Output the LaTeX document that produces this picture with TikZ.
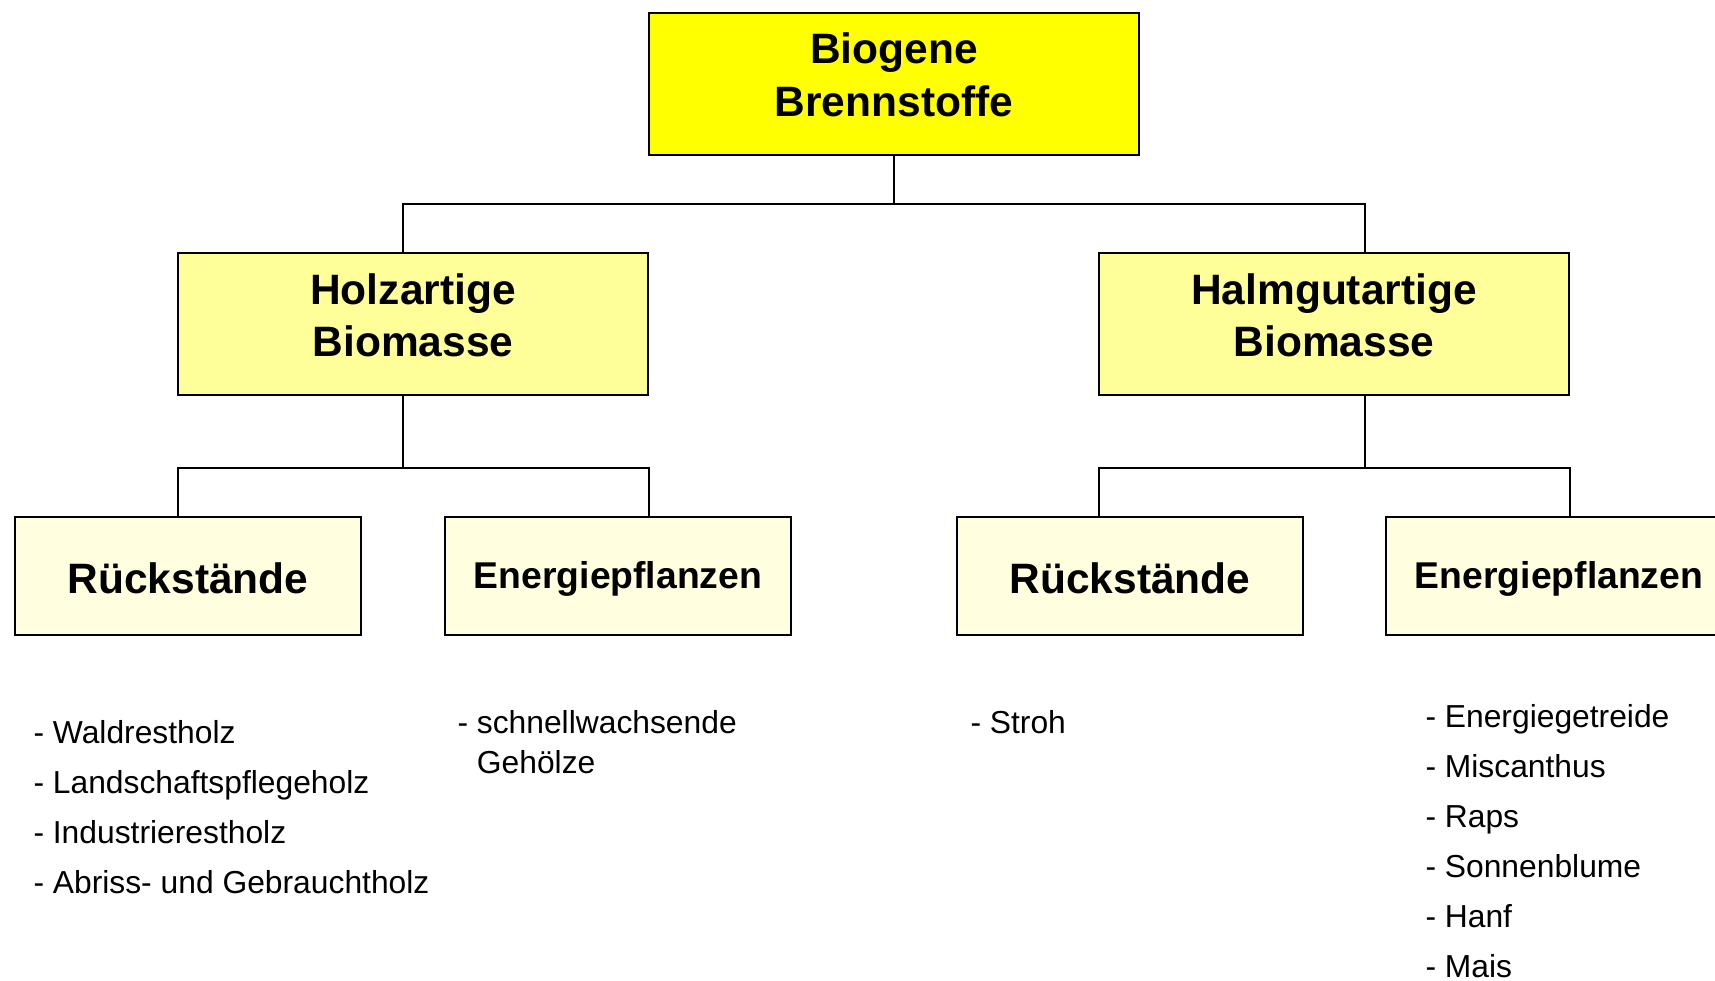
\documentclass[tikz,border=0pt]{standalone}
\usepackage{fontspec}
\setmainfont{Liberation Sans}
\usepackage{array}
\definecolor{rootfill}{HTML}{FFFF00}
\definecolor{midfill}{HTML}{FFFF99}
\definecolor{leaffill}{HTML}{FFFFE0}
\begin{document}
\begin{tikzpicture}[x=1pt,y=-1pt,
  boxbase/.style={rectangle,draw=black,line width=2pt,inner sep=0pt,outer sep=0pt},
  rootbox/.style={boxbase,fill=rootfill,minimum width=490pt,minimum height=142pt,
    font=\fontsize{42.5}{53}\selectfont\bfseries,text height=31pt,text depth=71pt},
  midbox/.style={boxbase,fill=midfill,minimum width=470pt,minimum height=142pt,
    font=\fontsize{42.5}{52}\selectfont\bfseries,text height=31pt,text depth=69pt},
  leafbox/.style={boxbase,fill=leaffill,minimum width=346pt,minimum height=118pt},
  rueckbox/.style={leafbox,font=\fontsize{42.5}{50}\selectfont\bfseries,text height=34pt,text depth=0pt},
  energbox/.style={leafbox,font=\fontsize{37.3}{44}\selectfont\bfseries,text height=24pt,text depth=0pt},
  listtext/.style={inner sep=0pt,outer sep=0pt,anchor=base west,font=\fontsize{31.8}{50}\selectfont},
  wraptext/.style={inner sep=0pt,outer sep=0pt,anchor=base west,font=\fontsize{31.8}{40}\selectfont},
  link/.style={draw=black,line width=2pt}
]
\useasboundingbox (0,0) rectangle (1715,981);

% boxes
\node[rootbox] (root) at (894,84) {\begin{tabular}[t]{@{}c@{}}Biogene\\Brennstoffe\end{tabular}};
\node[midbox] (holz) at (413,324) {\begin{tabular}[t]{@{}c@{}}Holzartige\\Biomasse\end{tabular}};
\node[midbox] (halm) at (1334,324) {\begin{tabular}[t]{@{}c@{}}Halmgutartige\\Biomasse\end{tabular}};
\node[rueckbox] (rueckL) at (188,576) {Rückstände};
\node[energbox] (energL) at (618,576) {Energiepflanzen};
\node[rueckbox] (rueckR) at (1130,576) {Rückstände};
\node[energbox] (energR) at (1559,576) {Energiepflanzen};

% junction coordinates
\coordinate (jL) at (403,204);
\coordinate (jR) at (1365,204);
\coordinate (kL) at (403,468);
\coordinate (aL1) at (178,468);
\coordinate (aL2) at (649,468);
\coordinate (kR) at (1365,468);
\coordinate (aR1) at (1099,468);
\coordinate (aR2) at (1570,468);

% connectors
\draw[link] (root.south) |- (jL) -- (jL |- holz.north);
\draw[link] (root.south) |- (jR) -- (jR |- halm.north);
\draw[link] (kL |- holz.south) -- (kL) -- (aL1) -- (aL1 |- rueckL.north);
\draw[link] (kL) -- (aL2) -- (aL2 |- energL.north);
\draw[link] (kR |- halm.south) -- (kR) -- (aR1) -- (aR1 |- rueckR.north);
\draw[link] (kR) -- (aR2) -- (aR2 |- energR.north);

% lists
\node[listtext] (listRL) at (33.5,743) {\begin{tabular}[t]{@{}l@{}}- Waldrestholz\\- Landschaftspflegeholz\\- Industrierestholz\\- Abriss- und Gebrauchtholz\end{tabular}};
\node[wraptext] (listEL) at (457.5,733) {\begin{tabular}[t]{@{}l@{}}- schnellwachsende\\\phantom{- }Gehölze\end{tabular}};
\node[listtext] (listRR) at (970.5,733) {- Stroh};
\node[listtext] (listER) at (1425.5,727) {\begin{tabular}[t]{@{}l@{}}- Energiegetreide\\- Miscanthus\\- Raps\\- Sonnenblume\\- Hanf\\- Mais\end{tabular}};
\end{tikzpicture}
\end{document}
